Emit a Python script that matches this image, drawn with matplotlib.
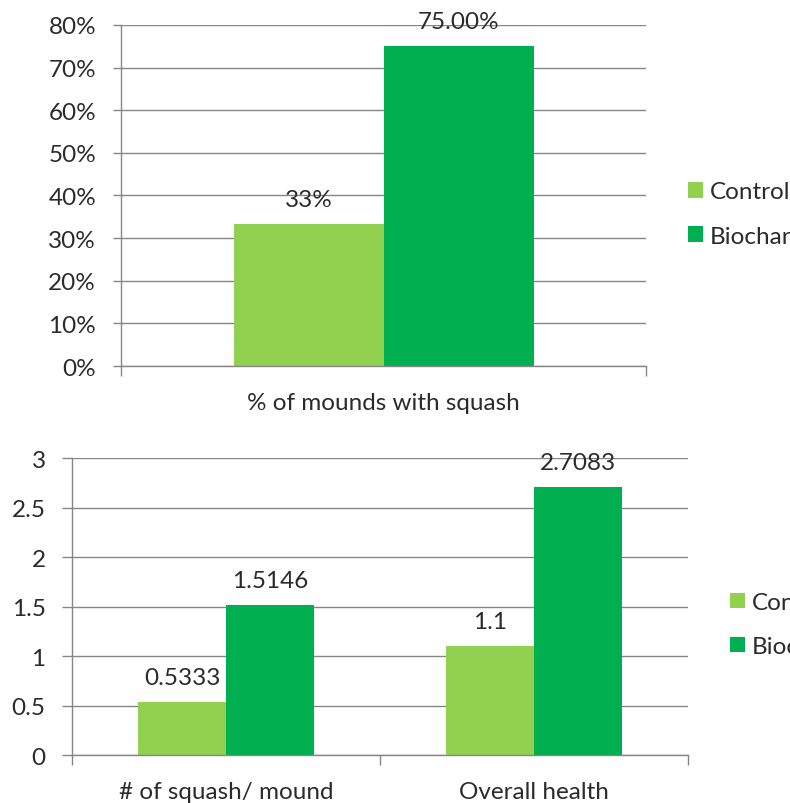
import matplotlib
matplotlib.use("Agg")
import matplotlib.pyplot as plt
from matplotlib.ticker import PercentFormatter, FixedLocator
import numpy as np

plt.rcParams['font.family'] = ['Lato', 'DejaVu Sans']

series = ["Control", "Biochar"]
colors = ["#92D050", "#00B050"]

# Top panel: share of mounds with squash
top_categories = ["% of mounds with squash"]
top_control = [0.3333]
top_biochar = [0.75]
top_ticks = [0, 0.1, 0.2, 0.3, 0.4, 0.5, 0.6, 0.7, 0.8]

# Bottom panel: squash counts and health score
bot_categories = ["# of squash/ mound", "Overall health"]
bot_control = [0.5333, 1.1]
bot_biochar = [1.5146, 2.7083]
bot_ticks = [0, 0.5, 1, 1.5, 2, 2.5, 3]

GRID = "#868686"
TEXT = "#2b2b2b"
FS = 17.5

fig = plt.figure(figsize=(7.9, 8.04), dpi=100)
ax1 = fig.add_axes([0.1532, 0.5435, 0.6646, 0.4242])
ax2 = fig.add_axes([0.0911, 0.0597, 0.7797, 0.3694])

W = 1 / 3.5  # bar width per category (150% gap width)


def style(ax, ncat, ticks, ymax, tick_len):
    ax.set_xlim(-0.5, ncat - 0.5)
    ax.set_ylim(0, ymax)
    ax.yaxis.set_major_locator(FixedLocator(ticks))
    ax.grid(axis='y', color=GRID, linewidth=1.0)
    ax.set_axisbelow(True)
    for s in ['top', 'right']:
        ax.spines[s].set_visible(False)
    for s in ['left', 'bottom']:
        ax.spines[s].set_color(GRID)
        ax.spines[s].set_linewidth(1.0)
    ax.tick_params(axis='y', length=tick_len, width=1.0, color=GRID,
                   labelsize=FS, labelcolor=TEXT, pad=12)
    # category labels at centres, divider ticks at boundaries
    ax.set_xticks(np.arange(ncat))
    ax.set_xticks(np.arange(ncat + 1) - 0.5, minor=True)
    ax.tick_params(axis='x', which='major', length=0, labelsize=FS,
                   labelcolor=TEXT, pad=18.5)
    ax.tick_params(axis='x', which='minor', length=7, width=1.0, color=GRID)


def add_legend(ax, x, y):
    ax.legend(loc='center left', bbox_to_anchor=(x, y),
              bbox_transform=fig.transFigure, frameon=False, fontsize=FS,
              labelcolor=TEXT, handlelength=0.6, handleheight=0.6,
              handletextpad=0.3, labelspacing=0.95, borderpad=0,
              borderaxespad=0)


# top chart
x1 = np.arange(len(top_categories))
b1 = ax1.bar(x1 - W / 2, top_control, W, color=colors[0], label=series[0])
b2 = ax1.bar(x1 + W / 2, top_biochar, W, color=colors[1], label=series[1])
style(ax1, len(top_categories), top_ticks, 0.8, 6)
ax1.set_xticklabels(top_categories)
ax1.yaxis.set_major_formatter(PercentFormatter(1.0, decimals=0))
ax1.bar_label(b1, labels=[f"{v:.0%}" for v in top_control], padding=10,
              fontsize=FS, color=TEXT)
ax1.bar_label(b2, labels=[f"{v:.2%}" for v in top_biochar], padding=10,
              fontsize=FS, color=TEXT)
add_legend(ax1, 0.871, 0.7326)

# bottom chart
x2 = np.arange(len(bot_categories))
c1 = ax2.bar(x2 - W / 2, bot_control, W, color=colors[0], label=series[0])
c2 = ax2.bar(x2 + W / 2, bot_biochar, W, color=colors[1], label=series[1])
style(ax2, len(bot_categories), bot_ticks, 3, 7)
ax2.set_xticklabels(bot_categories)
ax2.yaxis.set_major_formatter(plt.FuncFormatter(lambda v, p: f"{v:g}"))
ax2.bar_label(c1, labels=[f"{v:g}" for v in bot_control], padding=10,
              fontsize=FS, color=TEXT)
ax2.bar_label(c2, labels=[f"{v:g}" for v in bot_biochar], padding=10,
              fontsize=FS, color=TEXT)
add_legend(ax2, 0.924, 0.222)

fig.savefig("out.png", dpi=100, facecolor="white")
